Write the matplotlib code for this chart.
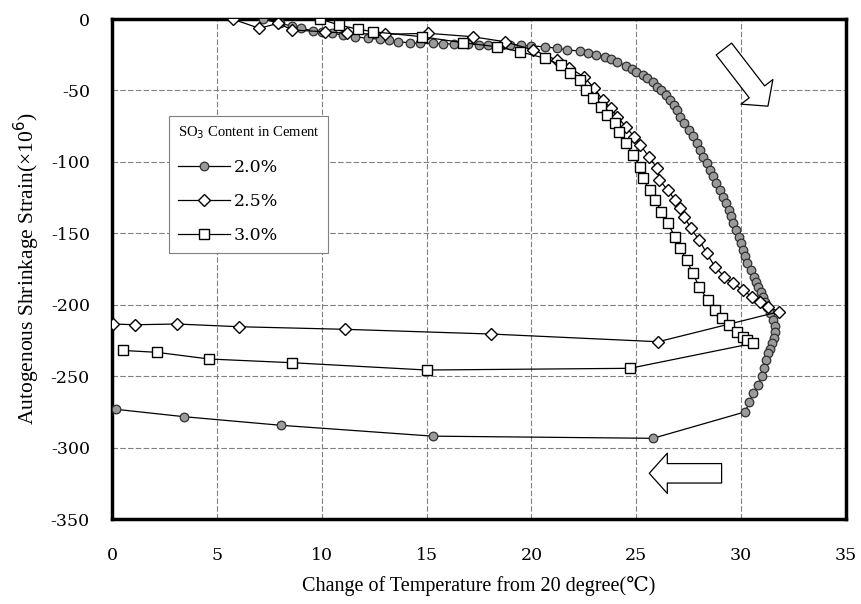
import matplotlib
matplotlib.use("Agg")
import matplotlib.pyplot as plt
from matplotlib.patches import FancyArrowPatch

# SO3 2.0 % (heating branch, then cooling back to 0)
x_20 = [7.2, 8.0, 8.6, 9.0, 9.6, 10.0, 10.5, 11.0, 11.6, 12.2, 12.8, 13.2, 13.65, 14.2,
        14.7, 15.3, 15.8, 16.3, 17.0, 17.5, 17.95, 18.6, 19.0, 19.5, 20.0, 20.65, 21.2,
        21.7, 22.3, 22.7, 23.1, 23.5, 23.8, 24.1, 24.5, 24.8, 25.0, 25.3, 25.5, 25.8,
        26.0, 26.2, 26.4, 26.6, 26.8, 26.95, 27.1, 27.3, 27.5, 27.7, 27.9, 28.05, 28.2,
        28.35, 28.5, 28.65, 28.8, 29.0, 29.15, 29.3, 29.4, 29.5, 29.6, 29.75, 29.9, 30.0,
        30.1, 30.2, 30.3, 30.45, 30.6, 30.7, 30.8, 30.95, 31.06, 31.15, 31.25, 31.4, 31.5,
        31.6, 31.6, 31.55, 31.46, 31.4, 31.3, 31.2, 31.1, 30.98, 30.8, 30.58, 30.4, 30.19,
        25.8, 15.3, 8.06, 3.45, 0.19]
y_20 = [0, -3, -5, -6.5, -8.2, -9, -10, -11.2, -12.4, -13.5, -14.2, -15, -15.9, -16.6,
        -17, -17, -17.3, -17.5, -17.5, -18, -18.2, -18.2, -18.2, -18.2, -18.9, -19.4, -20.5,
        -21.5, -22.5, -24, -25, -26.4, -28, -29.9, -33, -35, -37, -39, -41.5, -44,
        -47.4, -50, -53.2, -56.5, -60.2, -64, -68.4, -73, -77.7, -82, -87, -92, -96.4,
        -101, -105.7, -110, -115, -120, -124.4, -129, -133.7, -138, -143, -148, -152.4, -157,
        -161.7, -166, -171, -176, -180.4, -184, -187.4, -191, -194.4, -198, -201.4, -206, -210.7,
        -215, -218.9, -223, -227, -231, -234, -238.7, -244, -250, -256, -262, -268, -275,
        -293.5, -292, -284.4, -278.4, -273.2]

# SO3 2.5 %
x_25 = [5.75, 7.02, 7.93, 8.6, 10.16, 11.19, 13.0, 15.08, 17.2, 18.74, 20.1, 21.2, 21.8,
        22.5, 23.0, 23.4, 23.8, 24.1, 24.5, 24.9, 25.2, 25.6, 26.0, 26.1, 26.5, 26.85,
        27.1, 27.3, 27.6, 28.0, 28.36, 28.75, 29.2, 29.6, 30.1, 30.5, 30.9, 31.3, 31.8,
        26.05, 18.06, 11.1, 6.07, 3.1, 1.1, 0.06]
y_25 = [0, -6.5, -3, -7.7, -8.9, -10, -10.7, -10, -12.4, -15.9, -21.7, -28.7, -34,
        -40.4, -48.5, -56.7, -62.5, -68.4, -75.4, -82.4, -88.2, -96.4, -104.5, -112.7, -119.7, -126.7,
        -132.5, -138.4, -146.5, -154.7, -164, -173.4, -180.4, -185, -189.7, -194.4, -197.9, -201.4, -204.9,
        -225.9, -220.5, -217.2, -215.4, -213.5, -214, -213.5]

# SO3 3.0 %
x_30 = [9.92, 10.84, 11.75, 12.46, 14.77, 16.75, 18.35, 19.46, 20.65, 21.4, 21.84, 22.3,
        22.6, 22.95, 23.3, 23.6, 24.0, 24.2, 24.5, 24.86, 25.2, 25.3, 25.66, 25.9, 26.2,
        26.5, 26.85, 27.1, 27.4, 27.7, 28.0, 28.4, 28.75, 29.1, 29.4, 29.8, 30.1, 30.3, 30.58,
        24.7, 15.0, 8.6, 4.64, 2.13, 0.51]
y_30 = [0, -4.2, -7.2, -8.9, -12.4, -16.6, -19.4, -22.9, -27.5, -32.2, -38, -42.7,
        -49.7, -55.5, -61.4, -67.2, -73, -78.9, -87, -95.2, -103.4, -111.5, -119.7, -126.7, -134.9,
        -143, -152.4, -160.5, -168.7, -178, -187.4, -196.7, -203.7, -209.5, -214.2, -218.9, -222.4, -224.7, -227,
        -244.5, -245.7, -240.6, -238, -233.3, -232]

x_ticks = [0, 5, 10, 15, 20, 25, 30, 35]
y_ticks = [0, -50, -100, -150, -200, -250, -300, -350]

serif = ["DejaVu Serif"]
label_font = ["Liberation Serif", "DejaVu Serif"]

fig = plt.figure(figsize=(8.62, 6.04), dpi=100)
ax = fig.add_axes([0.1299, 0.1407, 0.8515, 0.8278])

ax.plot(x_20, y_20, "-", color="black", lw=0.9, marker="o", ms=6.2,
        mfc="#9a9a9a", mec="#303030", mew=0.9, label="2.0%", zorder=3)
ax.plot(x_25, y_25, "-", color="black", lw=0.9, marker="D", ms=6.0,
        mfc="white", mec="black", mew=1.0, label="2.5%", zorder=4)
ax.plot(x_30, y_30, "-", color="black", lw=0.9, marker="s", ms=6.5,
        mfc="white", mec="black", mew=1.0, label="3.0%", zorder=4)

ax.set_xlim(0, 35)
ax.set_ylim(-350, 0)
ax.set_xticks(x_ticks)
ax.set_xticklabels([str(v) for v in x_ticks], family=serif, fontsize=12.5)
ax.set_yticks(y_ticks)
ax.set_yticklabels([str(v) for v in y_ticks], family=serif, fontsize=12.5)
ax.tick_params(length=0, pad=0)
ax.tick_params(axis="x", pad=20)
ax.tick_params(axis="y", pad=16)
ax.grid(True, color="0.5", lw=0.8, ls=(0, (5, 2)))
ax.set_axisbelow(True)
for s in ax.spines.values():
    s.set_linewidth(2.5)

ax.set_xlabel("Change of Temperature from 20 degree(℃)", family=label_font,
              fontsize=14.5, labelpad=9)
ax.set_ylabel("Autogenous Shrinkage Strain(×10$^{6}$)", family=label_font,
              fontsize=15.5, labelpad=6)

leg = ax.legend(loc="lower left", bbox_to_anchor=(0.0777, 0.532), title="SO$_3$ Content in Cement",
                prop={"family": serif, "size": 12.5}, title_fontproperties={"family": label_font, "size": 10.5},
                handlelength=3.0, handletextpad=0.25, fancybox=False, framealpha=1, edgecolor="0.5",
                borderpad=0.5, labelspacing=1.0, borderaxespad=0)
leg.get_frame().set_linewidth(0.8)
leg._legend_box.align = "left"

arrow_style = "simple,head_length=13,head_width=29,tail_width=14"
ax.add_patch(FancyArrowPatch((29.18, -21), (31.28, -61), arrowstyle=arrow_style,
                             mutation_scale=1, fc="white", ec="black", lw=0.9,
                             shrinkA=0, shrinkB=0, zorder=5))
ax.add_patch(FancyArrowPatch((29.07, -318), (25.62, -318), arrowstyle=arrow_style,
                             mutation_scale=1, fc="white", ec="black", lw=0.9,
                             shrinkA=0, shrinkB=0, zorder=5))

fig.savefig("out.png", dpi=100)
